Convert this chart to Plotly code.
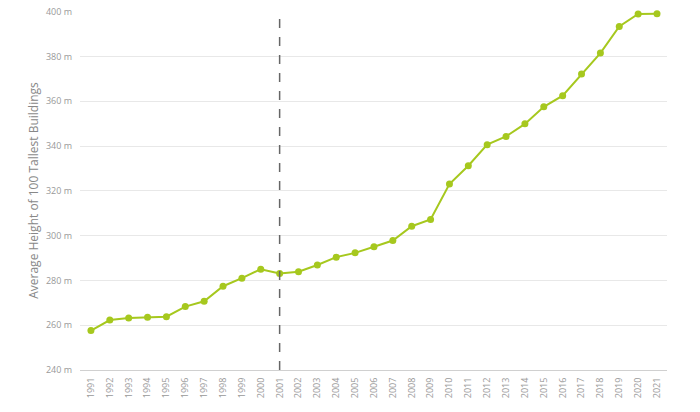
import plotly.graph_objects as go

years = list(range(1991, 2022))
avg_height = [257.6, 262.3, 263.2, 263.5, 263.8, 268.3, 270.7, 277.4, 281.0, 285.0,
              283.1, 283.9, 286.9, 290.4, 292.3, 295.0, 297.8, 304.2, 307.2, 323.0,
              331.2, 340.6, 344.3, 349.9, 357.5, 362.5, 372.2, 381.5, 393.4, 399.0, 399.1]
y_ticks = [240, 260, 280, 300, 320, 340, 360, 380, 400]
y_tick_labels = [f"{v} m" for v in y_ticks]
marker_year = 2001

fig = go.Figure()
fig.add_trace(go.Scatter(
    x=years, y=avg_height, mode="lines+markers",
    line=dict(color="#a6c81e", width=2),
    marker=dict(color="#a6c81e", size=7),
    showlegend=False, cliponaxis=False,
))
fig.add_shape(type="line", x0=marker_year, x1=marker_year, xref="x",
              y0=0, y1=1, yref="paper",
              line=dict(color="#666666", width=1.5, dash="dash"))

fig.update_layout(
    width=700, height=412,
    margin=dict(l=80, r=33, t=11, b=42),
    paper_bgcolor="white", plot_bgcolor="white",
    font=dict(family="Open Sans", color="#999999"),
    xaxis=dict(
        range=[1990.42, 2021.53], automargin=False,
        tickvals=years, ticktext=[str(y) for y in years],
        tickangle=-90, tickfont=dict(size=9, color="#999999"),
        showgrid=False, zeroline=False,
        showline=True, linecolor="#d0d0d0", linewidth=1,
        ticks="", ticklen=0, ticklabelstandoff=3,
    ),
    yaxis=dict(
        range=[240, 400.3], automargin=False,
        tickvals=y_ticks, ticktext=y_tick_labels,
        tickfont=dict(size=9, color="#999999"),
        showgrid=True, gridcolor="#e8e8e8", gridwidth=1,
        zeroline=False, ticks="", ticklen=0, ticklabelstandoff=7,
        title=dict(text="Average Height of 100 Tallest Buildings",
                   font=dict(size=12, color="#888888"), standoff=4),
    ),
)
fig.write_html("out.html", config={"displayModeBar": False},
               post_script="document.body.style.margin='0';document.body.style.overflow='hidden';")
